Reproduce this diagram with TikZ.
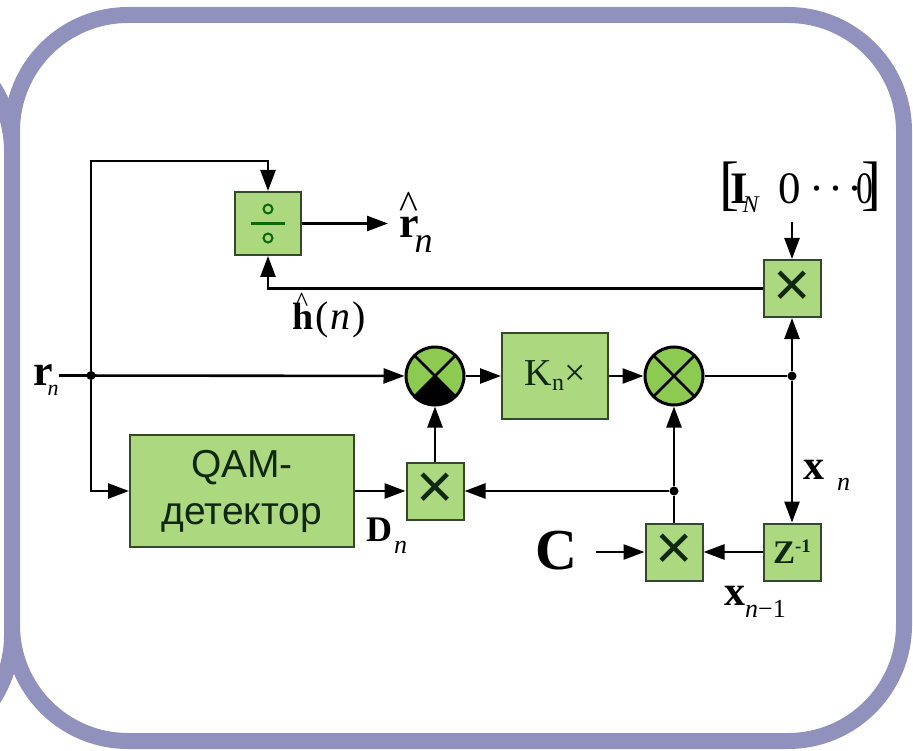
\documentclass[tikz,border=0pt]{standalone}
\usepackage{fontspec}
\setmainfont{Liberation Serif}
\newfontfamily\arialfont{Liberation Sans}
\usetikzlibrary{arrows.meta}
\definecolor{framecol}{RGB}{145,145,190}
\definecolor{blockcol}{RGB}{172,216,128}
\definecolor{sumcol}{RGB}{140,202,82}
\definecolor{edgecol}{RGB}{52,72,44}
\definecolor{inkcol}{RGB}{16,40,16}
\newcommand{\sz}[2]{{\fontsize{#1}{#1}\selectfont #2}}
\tikzset{
	block/.style={draw=edgecol,fill=blockcol,line width=2pt,inner sep=0pt,text=inkcol},
	mulblock/.style={block,minimum width=57pt,minimum height=57pt,font=\arialfont\fontsize{64}{64}\selectfont},
	sumnode/.style={circle,draw=black,fill=sumcol,line width=3pt,minimum size=58pt,inner sep=0pt,
		path picture={\draw[line width=2.6pt] (path picture bounding box.north west) -- (path picture bounding box.south east)
			(path picture bounding box.north east) -- (path picture bounding box.south west);}},
	joint/.style={circle,fill=black,inner sep=0pt,minimum size=9pt},
	lbl/.style={inner sep=0pt,anchor=base west},
	wire/.style={line width=2.6pt,draw=black},
	wirearrow/.style={wire,-{Triangle[length=21pt,width=15pt]}}
}
\begin{document}
\begin{tikzpicture}[x=1pt,y=-1pt]
	\clip (0,0) rectangle (913,751);
	\draw[draw=framecol,line width=16pt,rounded corners=118pt] (-400,33) rectangle (12,753);
	\draw[draw=framecol,fill=white,line width=16pt,rounded corners=116pt] (12,15) rectangle (904,741);
	
	\node[block,minimum width=66pt,minimum height=63pt] (div) at (268,223.5) {};
	\node[block,minimum width=224pt,minimum height=112pt,align=center,font=\arialfont\fontsize{39}{47}\selectfont] (qam) at (242,491) {QAM-\\детектор};
	\node[block,minimum width=106pt,minimum height=85pt] (gain) at (555,376) {\sz{38}{K}\raisebox{-5pt}{\sz{24}{n}}\sz{38}{×}};
	\node[mulblock] (mulI) at (792,288.5) {×};
	\node[mulblock] (mulD) at (435,491) {×};
	\node[mulblock] (mulC) at (674,552) {×};
	\node[block,minimum width=57pt,minimum height=57pt] (delay) at (792,552) {\textbf{\sz{33}{Z}\raisebox{11pt}{\sz{19}{-1}}}};
	\node[sumnode] (sumA) at (435,376) {};
	\fill[black] (sumA.center) -- (sumA.south west) arc[start angle=225,end angle=315,radius=29pt] -- cycle;
	\node[sumnode] (sumB) at (674,376) {};
	
	\node[joint] (jr) at (91,375.5) {};
	\node[joint] (jx) at (792,376) {};
	\node[joint] (jb) at (674,491) {};
	\coordinate (rstart) at (59,375.5);
	\coordinate (topcorner) at (91,161);
	\coordinate (rhatend) at (388,223.5);
	\coordinate (istart) at (792,222);
	\coordinate (cstart) at (596,552);
	
	\draw[wirearrow] (rstart) -- (sumA);
	\draw[wirearrow] (jr) -- (topcorner) -| (div);
	\draw[wirearrow] (jr) |- (qam);
	\draw[wirearrow] (div) -- (rhatend);
	\draw[wirearrow] (mulI) -| (div);
	\draw[wirearrow] (istart) -- (mulI);
	\draw[wirearrow] (sumA) -- (gain);
	\draw[wirearrow] (gain) -- (sumB);
	\draw[wire] (sumB) -- (jx);
	\draw[wirearrow] (jx) -- (mulI);
	\draw[wirearrow] (jx) -- (delay);
	\draw[wirearrow] (qam) -- (mulD);
	\draw[wirearrow] (mulD) -- (sumA);
	\draw[wirearrow] (jb) -- (mulD);
	\draw[wirearrow] (jb) -- (sumB);
	\draw[wire] (mulC) -- (jb);
	\draw[wirearrow] (delay) -- (mulC);
	\draw[wirearrow] (cstart) -- (mulC);
	
	\draw[line width=2.6pt,draw=inkcol!70!green] (251,223.5) -- (285,223.5);
	\draw[line width=2pt,draw=inkcol!70!green] (268,209) circle[radius=4.5pt] (268,238) circle[radius=4.5pt];
	
	\node[lbl] (rlab) at (33,385) {\textbf{\sz{44}{r}}\hspace{-5pt}\raisebox{-10pt}{\textit{\sz{22}{n}}}};
	\node[lbl] (rhatlab) at (399,238) {\rlap{\raisebox{19pt}{\sz{40}{\^{}}}}\textbf{\sz{44}{r}}\hspace{-4pt}\raisebox{-15pt}{\textit{\sz{36}{n}}}};
	\node[lbl] (hhatlab) at (292,330) {\rlap{\raisebox{18pt}{\hspace{3pt}\sz{28}{\^{}}}}\textbf{\sz{38}{h}}\sz{40}{\hspace{2pt}(\hspace{2pt}\textit{n}\hspace{2pt})}};
	\node[lbl] (ilab) at (719,204) {\sz{60}{[}\hspace{-9pt}\textbf{\sz{45}{I}}\hspace{-5pt}\raisebox{-9pt}{\textit{\sz{24}{N}}}\hspace{19pt}\sz{45}{0}\hspace{8pt}\sz{45}{·}\hspace{3.9pt}\sz{45}{·}\hspace{3.9pt}\sz{45}{·}\hspace{-5.5pt}\scalebox{0.75}[1]{\sz{45}{0}}\hspace{-12pt}\sz{60}{]}};
	\node[lbl] (dlab) at (366,541) {\textbf{\sz{36}{D}}\hspace{2pt}\raisebox{-12pt}{\textit{\sz{26}{n}}}};
	\node[lbl] (xlab) at (803,479) {\textbf{\sz{42}{x}}\hspace{13pt}\raisebox{-11pt}{\textit{\sz{26}{n}}}};
	\node[lbl] (xprevlab) at (724,605) {\textbf{\sz{42}{x}}\raisebox{-12pt}{\sz{26}{\textit{n}−1}}};
	\node[lbl] (clab) at (535,569) {\textbf{\sz{58}{C}}};
\end{tikzpicture}
\end{document}
